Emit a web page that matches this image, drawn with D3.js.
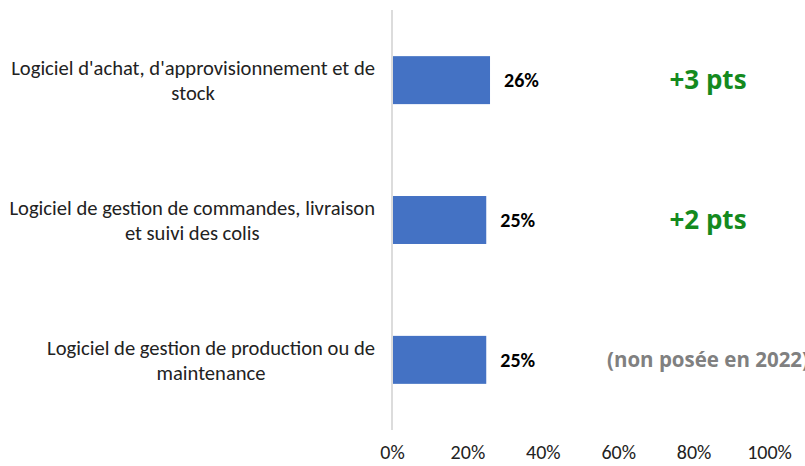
<!DOCTYPE html>
<html>
<head>
<meta charset="utf-8">
<script src="https://cdn.jsdelivr.net/npm/d3@7"></script>
<style>
  body { margin: 0; background: #fff; }
  svg { display: block; }
</style>
</head>
<body>
<svg id="chart" width="805" height="466"></svg>
<script>
// data
var categories = [
  "Logiciel d'achat, d'approvisionnement et de\nstock",
  "Logiciel de gestion de commandes, livraison\net suivi des colis",
  "Logiciel de gestion de production ou de\nmaintenance"
];
var values = [0.26, 0.25, 0.25];
var evolutions = ["+3 pts", "+2 pts", "(non posée en 2022)"];
var evolutionKinds = ["up", "up", "none"];
var tickValues = [0, 0.2, 0.4, 0.6, 0.8, 1];

var labelFont = "Carlito, Calibri, Lato, sans-serif";
var svg = d3.select("#chart");
var axisX = 392;

var x = d3.scaleLinear().domain([0, 1]).range([axisX, 769]);
var y = d3.scaleBand().domain(categories).range([10, 430])
  .paddingInner(0.657).paddingOuter(0.33);

// vertical axis line
svg.append("line")
  .attr("x1", axisX).attr("x2", axisX)
  .attr("y1", 10).attr("y2", 430)
  .attr("stroke", "#d0d0d0")
  .attr("stroke-width", 1.5);

// bars
svg.selectAll("rect.bar")
  .data(values)
  .enter().append("rect")
    .attr("class", "bar")
    .attr("x", x(0) + 1)
    .attr("y", function(d, i){ return y(categories[i]); })
    .attr("width", function(d){ return x(d) - x(0) - 1; })
    .attr("height", y.bandwidth())
    .attr("fill", "#4472C4");

// value labels
svg.selectAll("text.val")
  .data(values)
  .enter().append("text")
    .attr("class", "val")
    .attr("x", function(d){ return x(d) + 14; })
    .attr("y", function(d, i){ return y(categories[i]) + y.bandwidth() / 2; })
    .attr("dy", "0.35em")
    .attr("font-family", labelFont)
    .attr("font-size", "20px")
    .attr("font-weight", "bold")
    .attr("fill", "#000")
    .text(function(d){ return Math.round(d * 100) + "%"; });

// category labels, wrapped lines centred on the block, block right-aligned
var rightEdge = 375;
var lineH = 25;
categories.forEach(function(c, i){
  var lines = c.split("\n");
  var g = svg.append("text")
    .attr("font-family", labelFont)
    .attr("font-size", "20.6px")
    .attr("fill", "#222")
    .attr("text-anchor", "middle");
  var cy = y(c) + y.bandwidth() / 2;
  var spans = lines.map(function(l, j){
    return g.append("tspan")
      .attr("y", cy + (j - (lines.length - 1) / 2) * lineH)
      .attr("dy", "0.35em")
      .text(l);
  });
  var maxW = d3.max(spans, function(s){ return s.node().getComputedTextLength(); });
  spans.forEach(function(s){ s.attr("x", rightEdge - maxW / 2); });
});

// evolution annotations
svg.selectAll("text.evo")
  .data(evolutions)
  .enter().append("text")
    .attr("class", "evo")
    .attr("x", 708)
    .attr("y", function(d, i){ return y(categories[i]) + y.bandwidth() / 2; })
    .attr("dy", "0.35em")
    .attr("text-anchor", "middle")
    .attr("font-family", "'Open Sans', Lato, sans-serif")
    .attr("font-weight", "bold")
    .attr("font-size", function(d, i){ return evolutionKinds[i] == "up" ? "26px" : "20.5px"; })
    .attr("fill", function(d, i){ return evolutionKinds[i] == "up" ? "#148a1e" : "#808080"; })
    .text(function(d){ return d; });

// x axis tick labels
var xAxis = d3.axisBottom(x)
  .tickValues(tickValues)
  .tickSize(0)
  .tickPadding(0)
  .tickFormat(d3.format(".0%"));
var ax = svg.append("g")
  .attr("transform", "translate(0,452)")
  .call(xAxis);
ax.select(".domain").remove();
ax.selectAll("text")
  .attr("dy", "0.35em")
  .attr("font-family", labelFont)
  .attr("font-size", "20px")
  .attr("fill", "#222");
</script>
</body>
</html>
